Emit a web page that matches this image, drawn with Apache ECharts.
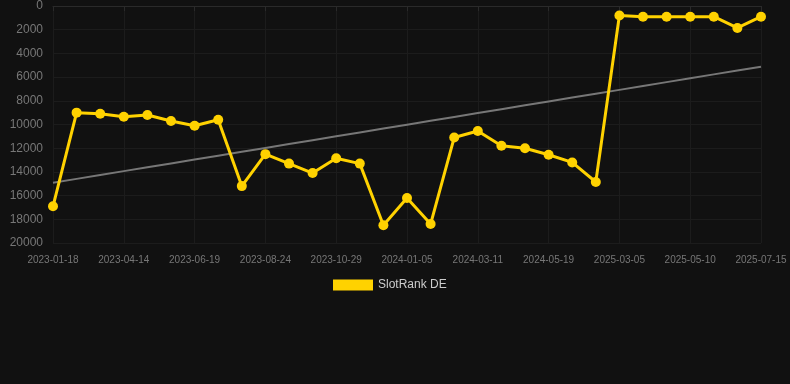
<!DOCTYPE html>
<html>
<head>
<meta charset="utf-8">
<script src="https://cdn.jsdelivr.net/npm/echarts@6/dist/echarts.min.js"></script>
<style>
html,body{margin:0;padding:0;background:#111111;}
#c{width:790px;height:384px;}
</style>
</head>
<body>
<div id="c"></div>
<script>
var categories = [
  '2023-01-18','2023-02-16','2023-03-15','2023-04-14','2023-05-06','2023-05-28',
  '2023-06-19','2023-07-11','2023-08-02','2023-08-24','2023-09-15','2023-10-07',
  '2023-10-29','2023-11-20','2023-12-13','2024-01-05','2024-01-27','2024-02-18',
  '2024-03-11','2024-04-03','2024-04-26','2024-05-19','2024-08-20','2024-12-01',
  '2025-03-05','2025-03-27','2025-04-18','2025-05-10','2025-06-01','2025-06-23',
  '2025-07-15'
];
var slotRankDE = [
  16900, 9000, 9100, 9350, 9200, 9700,
  10100, 9600, 15200, 12500, 13300, 14100,
  12850, 13300, 18500, 16200, 18400, 11100,
  10550, 11800, 12000, 12550, 13200, 14850,
  800, 900, 900, 900, 900, 1850,
  900
];
var seriesName = 'SlotRank DE';

// linear regression trend from the data
var n = slotRankDE.length, sx = 0, sy = 0, sxx = 0, sxy = 0;
for (var i = 0; i < n; i++) { sx += i; sy += slotRankDE[i]; sxx += i * i; sxy += i * slotRankDE[i]; }
var slope = (n * sxy - sx * sy) / (n * sxx - sx * sx);
var intercept = (sy - slope * sx) / n;
var trend = slotRankDE.map(function (v, i) { return intercept + slope * i; });

var chart = echarts.init(document.getElementById('c'));
chart.setOption({
  backgroundColor: '#111111',
  animation: false,
  grid: { left: 53, right: 29, top: 6, bottom: 141, containLabel: false },
  legend: {
    data: [seriesName],
    bottom: 88,
    left: 328,
    itemWidth: 40,
    itemHeight: 11,
    icon: 'rect',
    textStyle: { color: '#cccccc', fontSize: 12, fontFamily: 'Arial, Liberation Sans, sans-serif' }
  },
  xAxis: {
    type: 'category',
    data: categories,
    boundaryGap: false,
    axisLine: { lineStyle: { color: '#2a2a2a' } },
    axisTick: { show: true, interval: 2, lineStyle: { color: '#2a2a2a' } },
    axisLabel: { interval: 2, color: '#777777', fontSize: 10, margin: 12, fontFamily: 'Arial, Liberation Sans, sans-serif' },
    splitLine: { show: true, interval: 2, lineStyle: { color: '#1c1c1c' } }
  },
  yAxis: {
    type: 'value',
    inverse: true,
    min: 0,
    max: 20000,
    interval: 2000,
    axisLine: { show: false },
    axisTick: { show: false },
    axisLabel: {
      color: '#777777', fontSize: 12, margin: 10, fontFamily: 'Arial, Liberation Sans, sans-serif',
      formatter: function (v) { return String(v); }
    },
    splitLine: { lineStyle: { color: '#1c1c1c' } }
  },
  series: [
    {
      name: seriesName,
      type: 'line',
      data: slotRankDE,
      symbol: 'circle',
      symbolSize: 10,
      lineStyle: { color: '#ffd200', width: 3 },
      itemStyle: { color: '#ffd200' },
      z: 3
    },
    {
      name: 'trend',
      type: 'line',
      data: trend,
      symbol: 'none',
      lineStyle: { color: '#777777', width: 2 },
      itemStyle: { color: '#777777' },
      silent: true,
      z: 2
    }
  ]
});
</script>
</body>
</html>
